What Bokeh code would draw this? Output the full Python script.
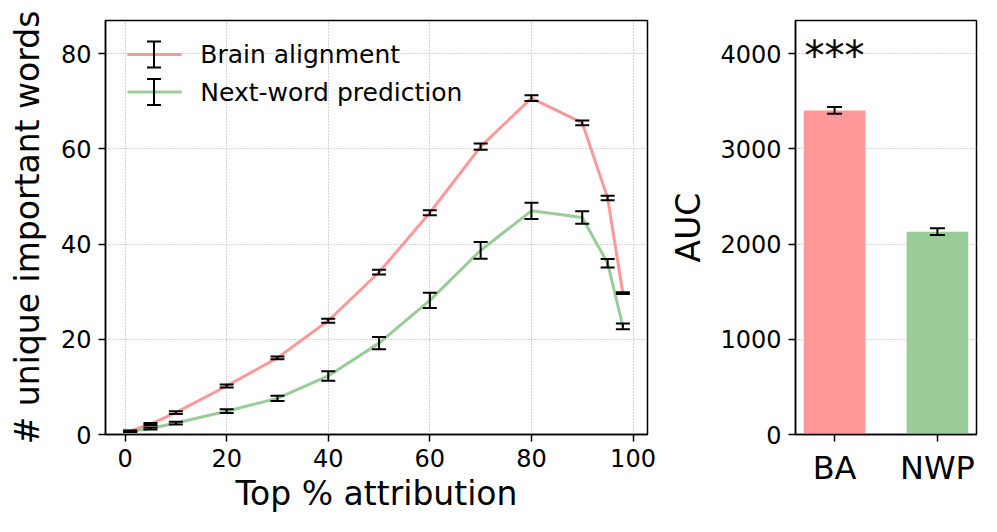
from bokeh.plotting import figure
from bokeh.models import ColumnDataSource, Whisker, TeeHead, Range1d
from bokeh.layouts import row
from bokeh.core.properties import value
from bokeh.embed import file_html
from bokeh.resources import INLINE

# ---------------- data ----------------
pct = [1, 5, 10, 20, 30, 40, 50, 60, 70, 80, 90, 95, 98]
ba_words = [0.7, 2.2, 4.6, 10.2, 16.1, 23.9, 34.1, 46.6, 60.5, 70.7, 65.5, 49.7, 29.7]
ba_err = [0.15, 0.2, 0.3, 0.3, 0.3, 0.4, 0.5, 0.55, 0.65, 0.6, 0.5, 0.45, 0.2]
nwp_words = [0.7, 1.25, 2.4, 4.9, 7.6, 12.3, 19.2, 28.2, 38.7, 47.0, 45.6, 36.0, 22.7]
nwp_err = [0.1, 0.2, 0.3, 0.4, 0.56, 0.98, 1.3, 1.6, 1.75, 1.7, 1.3, 0.9, 0.6]

legend_labels = ["Brain alignment", "Next-word prediction"]

models = ["BA", "NWP"]
auc = [3405, 2131]
auc_err = [35, 35]
signif = "***"

x_ticks = [0, 20, 40, 60, 80, 100]
y_ticks = [0, 20, 40, 60, 80]
auc_ticks = [0, 1000, 2000, 3000, 4000]

# ---------------- style ----------------
RED = "#ff9999"
GREEN = "#99cc99"
FONT = "DejaVu Sans"
GRID = "#a8a8a8"


def style(p, tick_size="24px"):
    p.outline_line_color = "black"
    p.outline_line_width = 1.5
    p.outline_line_alpha = 1.0
    for ax in p.axis:
        ax.axis_line_color = "black"
        ax.axis_line_width = 1.5
        ax.major_tick_line_color = "black"
        ax.major_tick_line_width = 1.5
        ax.major_tick_out = 7
        ax.major_tick_in = 0
        ax.minor_tick_line_color = None
        ax.major_label_text_font = FONT
        ax.major_label_text_font_size = tick_size
        ax.major_label_text_color = "black"
        ax.major_label_standoff = 7
        ax.axis_label_text_font = FONT
        ax.axis_label_text_font_size = "33px"
        ax.axis_label_text_font_style = "normal"
        ax.axis_label_text_color = "black"
    for g in p.grid:
        g.grid_line_color = GRID
        g.grid_line_dash = "1 2"
        g.grid_line_width = 1


def whisker(src, cap=14):
    return Whisker(
        source=src, base="x", upper="upper", lower="lower", dimension="height",
        line_color="black", line_width=2, level="annotation",
        upper_head=TeeHead(size=cap, line_color="black", line_width=2),
        lower_head=TeeHead(size=cap, line_color="black", line_width=2),
    )


# ---------------- left: curves ----------------
x0, x1 = -3.85, 102.85
y0, y1 = 0, 87
p1 = figure(
    width=665, height=524, output_backend="svg", toolbar_location=None,
    x_range=Range1d(x0, x1), y_range=Range1d(y0, y1),
    min_border_left=105, min_border_right=18, min_border_top=20, min_border_bottom=90,
    background_fill_color="white", border_fill_color="white",
)
style(p1)
p1.xaxis.ticker = x_ticks
p1.yaxis.ticker = y_ticks
p1.xaxis.axis_label = "Top % attribution"
p1.yaxis.axis_label = "# unique important words"
p1.xaxis.axis_label_standoff = 4
p1.yaxis.axis_label_standoff = 11

series = [(ba_words, ba_err, RED), (nwp_words, nwp_err, GREEN)]
for vals, errs, col in series:
    src = ColumnDataSource(dict(
        x=pct, y=vals,
        upper=[v + e for v, e in zip(vals, errs)],
        lower=[v - e for v, e in zip(vals, errs)],
    ))
    p1.line("x", "y", source=src, line_color=col, line_width=3)
    p1.add_layout(whisker(src))

# manual legend (errorbar-style handles), positioned by fractions of the axes
xs = x1 - x0
ys = y1 - y0
leg_rows = [y0 + 0.918 * ys, y0 + 0.827 * ys]
h_x0, h_x1, h_mid = x0 + 0.0405 * xs, x0 + 0.1406 * xs, x0 + 0.0895 * xs
h_half = 0.0314 * ys
txt_x = x0 + 0.1748 * xs
for (lab, (_, _, col)), yy in zip(zip(legend_labels, series), leg_rows):
    p1.line([h_x0, h_x1], [yy, yy], line_color=col, line_width=3)
    lsrc = ColumnDataSource(dict(x=[h_mid], upper=[yy + h_half], lower=[yy - h_half]))
    p1.add_layout(whisker(lsrc))
p1.text(x=[txt_x] * 2, y=leg_rows, text=legend_labels,
        text_font=value(FONT), text_font_size=value("25px"),
        text_baseline="middle", text_align="left", text_color="black")

# ---------------- right: AUC bars ----------------
bar_x = list(range(len(models)))
p2 = figure(
    width=324, height=524, output_backend="svg", toolbar_location=None,
    x_range=Range1d(-0.38, len(models) - 1 + 0.38),
    y_range=Range1d(0, 4350),
    min_border_left=130, min_border_right=13, min_border_top=20, min_border_bottom=90,
    background_fill_color="white", border_fill_color="white",
)
style(p2)
p2.xaxis.ticker = bar_x
p2.xaxis.major_label_overrides = {i: m for i, m in zip(bar_x, models)}
p2.xaxis.major_label_text_font_size = "32px"
p2.yaxis.ticker = auc_ticks
p2.yaxis.axis_label = "AUC"
p2.yaxis.axis_label_standoff = 9
p2.xgrid.visible = False

bsrc = ColumnDataSource(dict(
    x=bar_x, top=auc, color=[RED, GREEN],
    upper=[v + e for v, e in zip(auc, auc_err)],
    lower=[v - e for v, e in zip(auc, auc_err)],
))
p2.vbar(x="x", top="top", width=0.6, source=bsrc, fill_color="color", line_color=None)
p2.add_layout(whisker(bsrc, cap=15))
p2.text(x=[bar_x[0]], y=[3975], text=[signif],
        text_font=value(FONT), text_font_size=value("40px"),
        text_baseline="alphabetic", text_align="center", text_color="black")

layout = row(p1, p2)
open("out.html", "w").write(file_html(layout, INLINE))
